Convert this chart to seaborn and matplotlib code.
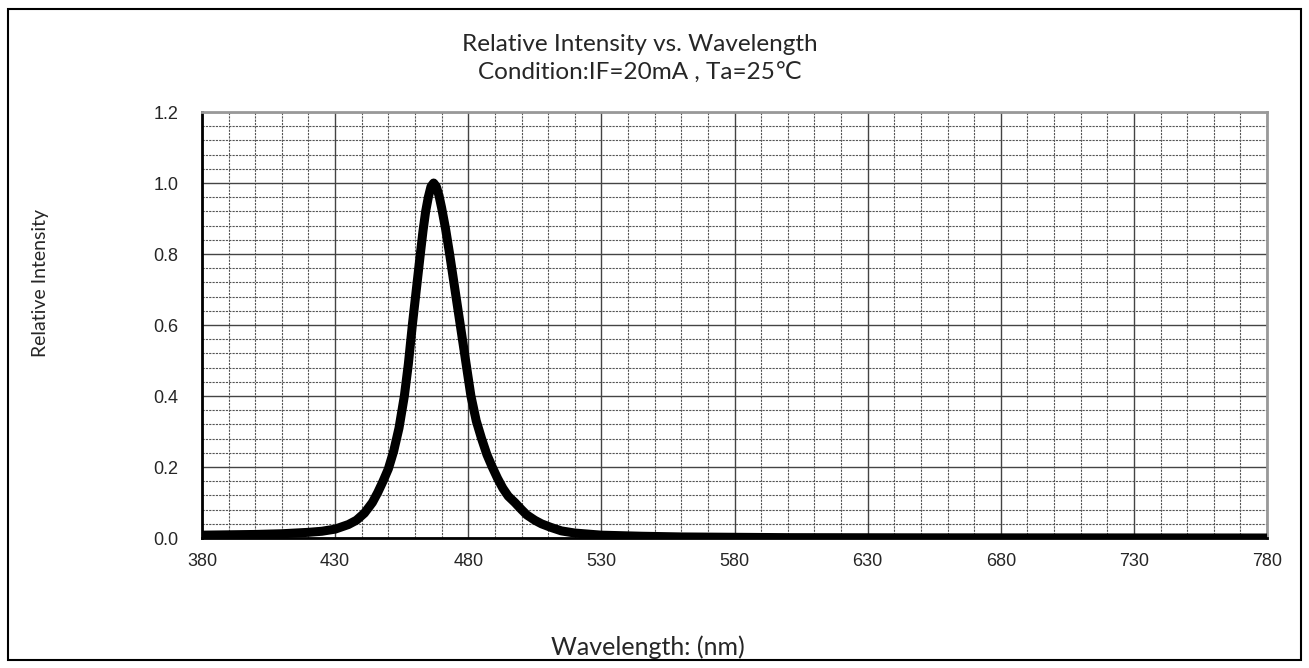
import numpy as np
import pandas as pd
import matplotlib
matplotlib.use("Agg")
import matplotlib.pyplot as plt
from matplotlib.ticker import MultipleLocator
from matplotlib.patches import Rectangle
import seaborn as sns

# Spectrum
wavelength = [380, 390, 400, 410, 420, 425, 430, 435, 438, 441, 444, 446, 448, 450,
              452, 454, 456, 457.5, 459, 460.5, 462, 463, 464, 465, 466, 467, 468,
              469, 470, 471.5, 473, 475, 477, 479, 481, 483, 485, 487, 489, 491, 493,
              495, 497.5, 500, 502, 505, 507.5, 511, 515, 520, 530, 545, 560, 600,
              650, 780]
intensity = [0.008, 0.009, 0.010, 0.012, 0.016, 0.019, 0.025, 0.038, 0.05, 0.07, 0.10,
             0.128, 0.16, 0.195, 0.245, 0.31, 0.40, 0.49, 0.60, 0.70, 0.80, 0.865,
             0.92, 0.96, 0.99, 1.0, 0.99, 0.965, 0.93, 0.87, 0.80, 0.70, 0.60, 0.50,
             0.40, 0.33, 0.28, 0.235, 0.20, 0.168, 0.14, 0.118, 0.10, 0.08, 0.065,
             0.05, 0.04, 0.03, 0.02, 0.014, 0.008, 0.005, 0.003, 0.001, 0.0005, 0.0]
x_ticks = [380, 430, 480, 530, 580, 630, 680, 730, 780]
y_ticks = [0.0, 0.2, 0.4, 0.6, 0.8, 1.0, 1.2]

df = pd.DataFrame({"wavelength": wavelength, "intensity": intensity})

sns.set_style("white")
plt.rcParams['font.family'] = ['Liberation Sans', 'DejaVu Sans']

fig = plt.figure(figsize=(13.09, 6.68), dpi=100)
ax = fig.add_axes([0.1543, 0.1946, 0.968 - 0.1543, 0.8323 - 0.1946])

sns.lineplot(data=df, x="wavelength", y="intensity", color="black", linewidth=6.5,
             ax=ax, zorder=5)

ax.set_xlim(380, 780)
ax.set_ylim(0, 1.2)
ax.set_xticks(x_ticks)
ax.set_yticks(y_ticks)
ax.set_yticklabels([f"{v:.1f}" for v in y_ticks])
ax.xaxis.set_minor_locator(MultipleLocator(10))
ax.yaxis.set_minor_locator(MultipleLocator(0.04))
ax.grid(which="major", color="#444444", linewidth=1.0, linestyle="-")
ax.grid(which="minor", color="#555555", linewidth=0.8, linestyle=(0, (2, 1)))
ax.set_axisbelow(True)
ax.tick_params(which="both", length=0, labelsize=13)
ax.tick_params(axis="x", pad=11)
ax.tick_params(axis="y", pad=17)

for side in ["top", "right"]:
    ax.spines[side].set_color("#999999")
    ax.spines[side].set_linewidth(2)
ax.spines["left"].set_color("black")
ax.spines["left"].set_linewidth(2)
ax.spines["bottom"].set_color("black")
ax.spines["bottom"].set_linewidth(2)

ax.set_xlabel("")
ax.set_ylabel("")

lab_font = ['Lato', 'DejaVu Sans']
fig.text(0.489, 0.933, "Relative Intensity vs. Wavelength", ha="center", va="center",
         fontsize=17.5, family=lab_font)
fig.text(0.489, 0.890, "Condition:IF=20mA , Ta=25℃", ha="center", va="center",
         fontsize=17.5, family=lab_font)
fig.text(0.495, 0.031, "Wavelength: (nm)", ha="center", va="center",
         fontsize=18, family=lab_font)
fig.text(0.031, 0.576, "Relative Intensity", ha="center", va="center",
         rotation=90, fontsize=14, family=lab_font)

# outer frame
fig.patches.append(Rectangle((0.006, 0.012), 0.988, 0.974, transform=fig.transFigure,
                             fill=False, edgecolor="black", linewidth=1.5))

plt.savefig("out.png", dpi=100)
